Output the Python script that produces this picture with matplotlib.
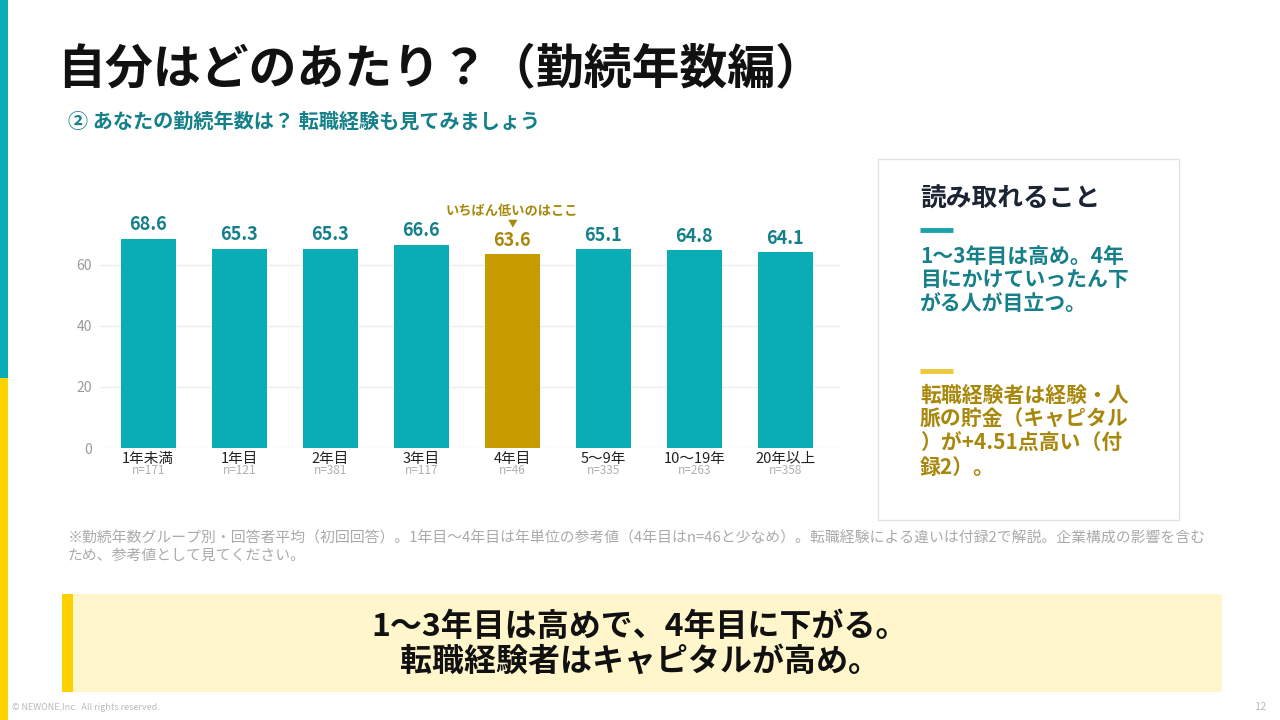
import matplotlib.pyplot as plt
from matplotlib.patches import Rectangle

plt.rcParams['font.family'] = ['Noto Sans CJK JP', 'DejaVu Sans']

# data
categories = ['1年未満', '1年目', '2年目', '3年目', '4年目', '5〜9年', '10〜19年', '20年以上']
n_counts = [171, 121, 381, 117, 46, 335, 263, 358]
scores = [68.6, 65.3, 65.3, 66.6, 63.6, 65.1, 64.8, 64.1]
lowest_idx = 4
y_ticks = [0, 20, 40, 60]

TEAL = '#0aadb6'
TEAL_TXT = '#15808a'
GOLD = '#c89b00'
GOLD_TXT = '#a8880c'

fig = plt.figure(figsize=(12.8, 7.2), dpi=100)

# background canvas in pixel coordinates
bg = fig.add_axes([0, 0, 1, 1])
bg.set_xlim(0, 1280)
bg.set_ylim(720, 0)
bg.axis('off')

# left stripe
bg.add_patch(Rectangle((0, 0), 8, 378, color='#0aadb6', lw=0))
bg.add_patch(Rectangle((0, 378), 8, 342, color='#ffd200', lw=0))

# title + subtitle
bg.text(57, 70, '自分はどのあたり？（勤続年数編）', fontsize=34.5, fontweight='bold',
        color='#111111', va='center', ha='left')
bg.text(68, 121, '② あなたの勤続年数は？ 転職経験も見てみましょう', fontsize=14.5,
        fontweight='bold', color=TEAL_TXT, va='center', ha='left')

# right box
bg.add_patch(Rectangle((878, 159), 301, 361, facecolor='white', edgecolor='#e2e2e2', lw=1))
bg.text(920, 199, '読み取れること', fontsize=18.5, fontweight='bold', color='#1b2433',
        va='center', ha='left')
bg.plot([920, 953], [230, 230], color='#1aa3ad', lw=3.5, solid_capstyle='butt')
point1 = ['1〜3年目は高め。4年', '目にかけていったん下', 'がる人が目立つ。']
for i, line in enumerate(point1):
    bg.text(920, 256 + i * 24, line, fontsize=15, fontweight='bold', color=TEAL_TXT,
            va='center', ha='left')
bg.plot([920, 953], [371, 371], color='#ecc83a', lw=3.5, solid_capstyle='butt')
point2 = ['転職経験者は経験・人', '脈の貯金（キャピタル', '）が+4.51点高い（付', '録2）。']
for i, line in enumerate(point2):
    bg.text(920, 395 + i * 24, line, fontsize=15, fontweight='bold', color=GOLD_TXT,
            va='center', ha='left')

# footnote
note = ['※勤続年数グループ別・回答者平均（初回回答）。1年目〜4年目は年単位の参考値（4年目はn=46と少なめ）。転職経験による違いは付録2で解説。企業構成の影響を含む',
        'ため、参考値として見てください。']
for i, line in enumerate(note):
    bg.text(68, 538 + i * 18, line, fontsize=10.7, color='#aaaaaa', va='center', ha='left')

# bottom banner
bg.add_patch(Rectangle((62, 594), 1160, 98, facecolor='#fff6cc', lw=0))
bg.add_patch(Rectangle((62, 594), 11, 98, facecolor='#ffd000', lw=0))
bg.text(640, 627, '1〜3年目は高めで、4年目に下がる。', fontsize=23, fontweight='bold',
        color='#111111', va='center', ha='center')
bg.text(640, 662, '転職経験者はキャピタルが高め。', fontsize=23, fontweight='bold',
        color='#111111', va='center', ha='center')

# footer
bg.text(12, 708, '© NEWONE,Inc.  All rights reserved.', fontsize=6.5, color='#bbbbbb',
        va='center', ha='left')
bg.text(1266, 707, '12', fontsize=8, color='#bbbbbb', va='center', ha='right')

# bar chart
ax = fig.add_axes([100 / 1280, 1 - 448 / 720, 740 / 1280, 229 / 720])
ax.set_zorder(2)
ax.patch.set_alpha(0)
x = list(range(len(categories)))
colors = [GOLD if i == lowest_idx else TEAL for i in x]
ax.bar(x, scores, width=0.6, color=colors, zorder=3)
ax.set_xlim(-0.53, 7.6)
ax.set_ylim(0, 75)
ax.set_yticks(y_ticks)
ax.set_yticklabels([str(t) for t in y_ticks], fontsize=10, color='#9a9a9a')
ax.grid(axis='y', color='#eeeeee', lw=1, zorder=0)
for s in ax.spines.values():
    s.set_visible(False)
ax.tick_params(axis='both', length=0)
ax.tick_params(axis='y', pad=6)
ax.set_xticks(x)
ax.set_xticklabels(categories, fontsize=10.5, color='#222222')
ax.tick_params(axis='x', pad=3)

for i, (v, n) in enumerate(zip(scores, n_counts)):
    c = GOLD_TXT if i == lowest_idx else TEAL_TXT
    ax.annotate(f'{v:.1f}', (i, v), xytext=(0, 3), textcoords='offset points',
                ha='center', va='bottom', fontsize=13, fontweight='bold', color=c)
    ax.text(i, -0.1, f'n={n}', transform=ax.get_xaxis_transform(), ha='center',
            va='center', fontsize=8.5, color='#b0b0b0')

ax.annotate('▼', (lowest_idx, scores[lowest_idx]), xytext=(0, 22), textcoords='offset points',
            ha='center', va='center', fontsize=7, color=GOLD_TXT, annotation_clip=False)
ax.annotate('いちばん低いのはここ', (lowest_idx, scores[lowest_idx]), xytext=(0, 31),
            textcoords='offset points', ha='center', va='center', fontsize=9.5,
            fontweight='bold', color=GOLD_TXT, annotation_clip=False)

fig.savefig('out.png', dpi=100)
